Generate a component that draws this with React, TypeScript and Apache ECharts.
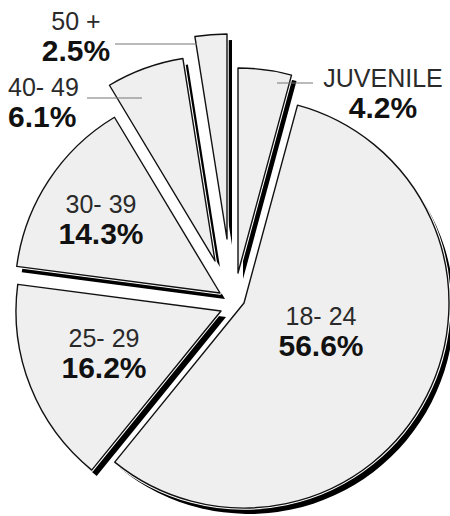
import React, { useEffect, useRef } from 'react';
import * as echarts from 'echarts';

// ---- data ----
const categories = ['JUVENILE', '18- 24', '25- 29', '30- 39', '40- 49', '50 +'];
const shares = [4.2, 56.6, 16.2, 14.3, 6.1, 2.5];

// ---- layout (positions / styles) ----
const RADIUS = 205;
const SHADOW_DX = 5;
const SHADOW_DY = 6;
// exploded centre of each slice
const sliceCenters: [number, number][] = [
  [238, 273],
  [244, 303],
  [221, 311],
  [220, 293],
  [215, 261],
  [227, 239],
];
const labelAnchors: { x: number; y: number; align: 'center' | 'left' }[] = [
  { x: 383, y: 93, align: 'center' },
  { x: 321, y: 331, align: 'center' },
  { x: 104, y: 353, align: 'center' },
  { x: 101, y: 219, align: 'center' },
  { x: 8, y: 102, align: 'left' },
  { x: 76, y: 36, align: 'center' },
];
const leaderLines: [number, number, number, number][] = [
  [277, 83, 313, 83],
  [115, 44, 197, 44],
  [87, 98, 142, 98],
];

const FONT = "'Liberation Sans', Arial, Helvetica, sans-serif";

type Layer = 'shadow' | 'halo' | 'main';

function makeSeries(i: number, layer: Layer) {
  const [cx, cy] = sliceCenters[i];
  const off = layer === 'shadow' ? [SHADOW_DX, SHADOW_DY] : [0, 0];
  const style =
    layer === 'shadow'
      ? { color: '#000000', borderWidth: 0 }
      : layer === 'halo'
      ? { color: '#ffffff', borderColor: '#ffffff', borderWidth: 3.5 }
      : { color: '#efefef', borderColor: '#111111', borderWidth: 1.4 };
  const anchor = labelAnchors[i];
  return {
    type: 'pie',
    silent: true,
    z: layer === 'shadow' ? 1 : layer === 'halo' ? 2 : 3,
    center: [cx + off[0], cy + off[1]],
    radius: [0, RADIUS],
    startAngle: 90,
    clockwise: true,
    avoidLabelOverlap: false,
    emphasis: { disabled: true },
    labelLine: { show: false },
    label:
      layer === 'main'
        ? {
            show: true,
            position: 'inside',
            align: anchor.align,
            formatter: (p: any) => `{n|${p.name}}\n{p|${p.value}%}`,
            rich: {
              n: {
                fontSize: 25,
                fontFamily: FONT,
                color: '#2a2a2a',
                lineHeight: 28,
                align: anchor.align,
              },
              p: {
                fontSize: 30,
                fontWeight: 'bold',
                fontFamily: FONT,
                color: '#111111',
                lineHeight: 30,
                align: anchor.align,
              },
            },
          }
        : { show: false },
    labelLayout:
      layer === 'main'
        ? { x: anchor.x, y: anchor.y, align: anchor.align, verticalAlign: 'middle' }
        : undefined,
    data: categories.map((name, j) => ({
      name,
      value: shares[j],
      itemStyle: j === i ? style : { color: 'rgba(0,0,0,0)', borderWidth: 0 },
      label: { show: layer === 'main' && j === i },
    })),
  };
}

export default function App() {
  const ref = useRef<HTMLDivElement>(null);
  useEffect(() => {
    if (!ref.current) return;
    const chart = echarts.init(ref.current, undefined, { renderer: 'svg' });
    const series: any[] = [];
    (['shadow', 'halo', 'main'] as Layer[]).forEach((layer) => {
      categories.forEach((_, i) => series.push(makeSeries(i, layer)));
    });
    chart.setOption({
      animation: false,
      backgroundColor: '#ffffff',
      series,
      graphic: leaderLines.map(([x1, y1, x2, y2]) => ({
        type: 'line',
        z: 10,
        shape: { x1, y1, x2, y2 },
        style: { stroke: '#777777', lineWidth: 1.2 },
      })),
    });
    return () => chart.dispose();
  }, []);
  return (
    <div
      ref={ref}
      style={{ position: 'absolute', left: 0, top: 0, width: 450, height: 516, background: '#fff' }}
    />
  );
}
